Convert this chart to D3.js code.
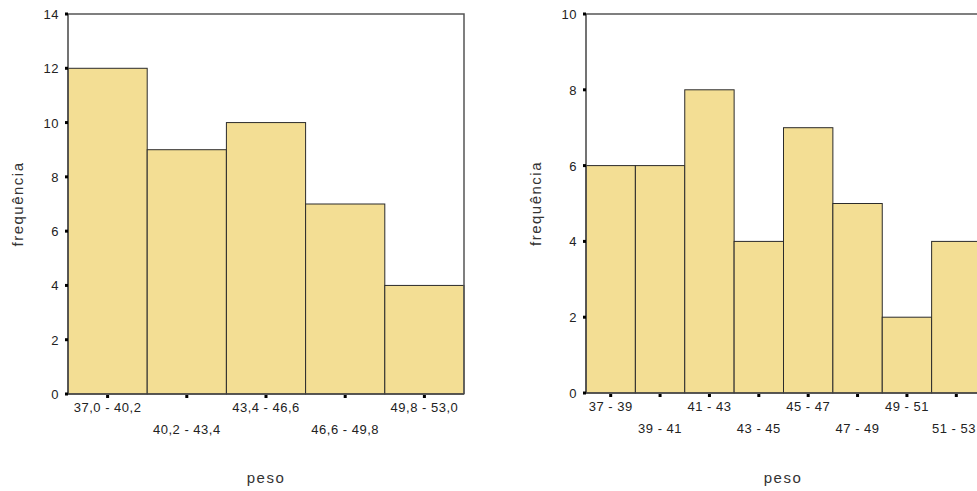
<!DOCTYPE html>
<html>
<head>
  <meta charset="UTF-8">
  <title>peso</title>
  <style>
    body { margin: 0; background: #fff; }
    svg { display: block; font-family: "Liberation Sans", Arial, sans-serif; }
  </style>
</head>
<body>
<svg></svg>
<script src="https://d3js.org/d3.v7.min.js"></script>
<script>
  let width = 977, height = 491;
  let svg = d3.select("svg").attr("width", width).attr("height", height);

  // left histogram
  var bins1 = ["37,0 - 40,2", "40,2 - 43,4", "43,4 - 46,6", "46,6 - 49,8", "49,8 - 53,0"];
  var freq1 = [12, 9, 10, 7, 4];
  var yTicks1 = [0, 2, 4, 6, 8, 10, 12, 14];

  // right histogram
  var bins2 = ["37 - 39", "39 - 41", "41 - 43", "43 - 45", "45 - 47", "47 - 49", "49 - 51", "51 - 53"];
  var freq2 = [6, 6, 8, 4, 7, 5, 2, 4];
  var yTicks2 = [0, 2, 4, 6, 8, 10];

  function histogram(cfg) {
    var g = svg.append("g");
    var x = d3.scaleBand().domain(cfg.bins).range([cfg.x0, cfg.x1]).padding(0);
    var y = d3.scaleLinear().domain([0, cfg.ymax]).range([cfg.y0, cfg.y1]);

    // bars
    g.selectAll("rect.bar")
      .data(cfg.freq)
      .enter().append("rect")
      .attr("class", "bar")
      .attr("x", (d, i) => x(cfg.bins[i]))
      .attr("y", d => y(d))
      .attr("width", x.bandwidth())
      .attr("height", d => cfg.y0 - y(d))
      .attr("fill", "#F3DE94")
      .attr("stroke", "#2b2b2b")
      .attr("stroke-width", 1);

    // frame top + right
    var xr = Math.min(cfg.x1, width + 5);
    g.append("path")
      .attr("d", "M" + cfg.x0 + "," + cfg.y1 + "H" + xr + "V" + cfg.y0)
      .attr("fill", "none")
      .attr("stroke", "#555")
      .attr("stroke-width", 1.5);

    // axes lines
    g.append("line")
      .attr("x1", cfg.x0).attr("x2", cfg.x0)
      .attr("y1", cfg.y1).attr("y2", cfg.y0)
      .attr("stroke", "#444").attr("stroke-width", 1.5);
    g.append("line")
      .attr("x1", cfg.x0).attr("x2", cfg.x1)
      .attr("y1", cfg.y0).attr("y2", cfg.y0)
      .attr("stroke", "#444").attr("stroke-width", 1.5);

    // y ticks
    var yt = g.selectAll("g.ytick").data(cfg.yTicks).enter().append("g").attr("class", "ytick");
    yt.append("rect")
      .attr("x", cfg.x0 - 3).attr("y", d => y(d) - 1.5)
      .attr("width", 3).attr("height", 3).attr("fill", "#000");
    yt.append("text")
      .attr("x", cfg.x0 - 9).attr("y", d => y(d) + 5)
      .attr("text-anchor", "end")
      .attr("font-size", 13).attr("fill", "#222")
      .attr("letter-spacing", 0.5)
      .text(d => d);

    // x ticks
    var xt = g.selectAll("g.xtick").data(cfg.bins).enter().append("g").attr("class", "xtick");
    xt.append("rect")
      .attr("x", d => x(d) + x.bandwidth() / 2 - 1.5).attr("y", cfg.y0 + 1)
      .attr("width", 3).attr("height", 3).attr("fill", "#000");
    xt.append("text")
      .attr("x", d => x(d) + x.bandwidth() / 2)
      .attr("y", (d, i) => cfg.y0 + (i % 2 == 0 ? 18 : 40))
      .attr("text-anchor", "middle")
      .attr("font-size", 13).attr("fill", "#222")
      .attr("letter-spacing", 0.5)
      .text(d => d)
      .each(function () {
        // keep labels inside the window
        var b = this.getBBox();
        var over = b.x + b.width - (width - 1);
        if (over > 0) d3.select(this).attr("dx", -over);
      });

    // axis titles
    g.append("text")
      .attr("x", cfg.xTitle).attr("y", 483)
      .attr("text-anchor", "middle")
      .attr("font-size", 15).attr("fill", "#333")
      .attr("letter-spacing", 1.5)
      .text("peso");
    g.append("text")
      .attr("transform", "translate(" + cfg.yTitleX + "," + ((cfg.y0 + cfg.y1) / 2) + ") rotate(-90)")
      .attr("text-anchor", "middle")
      .attr("font-size", 15).attr("fill", "#333")
      .attr("letter-spacing", 1.5)
      .text("frequência");
  }

  histogram({bins: bins1, freq: freq1, yTicks: yTicks1, ymax: 14,
    x0: 68, x1: 464, y0: 394, y1: 14, xTitle: 266, yTitleX: 23});
  histogram({bins: bins2, freq: freq2, yTicks: yTicks2, ymax: 10,
    x0: 586, x1: 981, y0: 393, y1: 14, xTitle: 783, yTitleX: 541});
</script>
</body>
</html>
